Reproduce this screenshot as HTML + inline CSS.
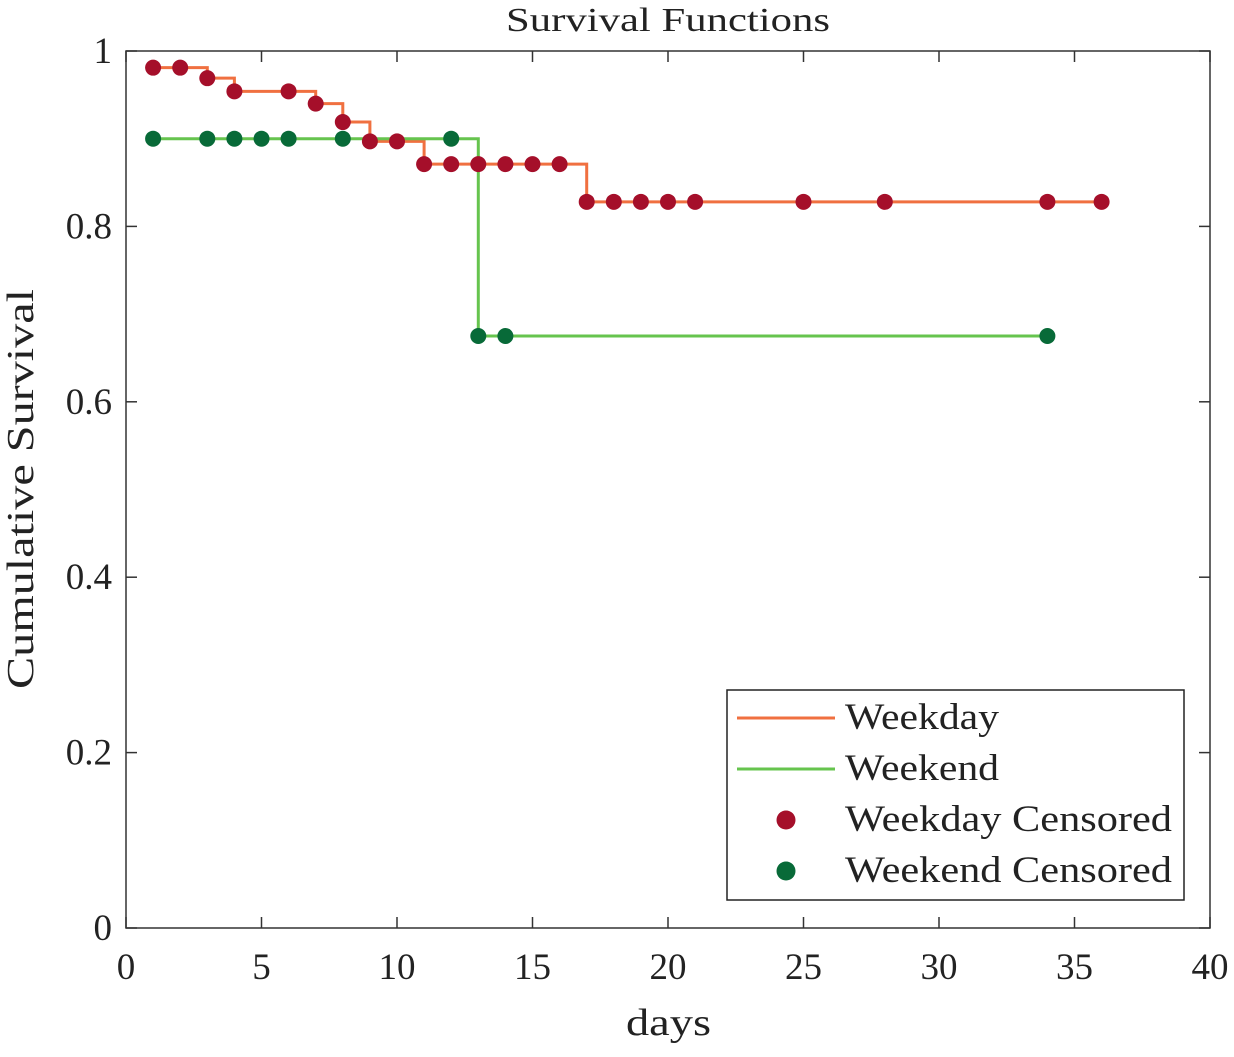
<!DOCTYPE html>
<html><head><meta charset="utf-8"><style>
body{margin:0;background:#fff}
svg text{font-family:"Liberation Serif",serif;fill:#222}
</style></head><body>
<svg id="chart" width="1234" height="1052" xmlns="http://www.w3.org/2000/svg">
<rect x="0" y="0" width="1234" height="1052" fill="#fff"/>
<g id="axes"></g>
<g id="series"></g>
<text x="506" y="31" textLength="324" lengthAdjust="spacingAndGlyphs" font-size="34">Survival Functions</text>
<text x="626" y="1035" textLength="85" lengthAdjust="spacingAndGlyphs" font-size="38">days</text>
<text transform="translate(33,689) rotate(-90)" textLength="400" lengthAdjust="spacingAndGlyphs" font-size="38">Cumulative Survival</text>
<g>
<rect x="727" y="690" width="457" height="210" fill="#fff" stroke="#222" stroke-width="1.5"/>
<line x1="737" y1="718" x2="835" y2="718" stroke="#f07040" stroke-width="3"/>
<text x="845" y="729" textLength="154" lengthAdjust="spacingAndGlyphs" font-size="37">Weekday</text>
<line x1="737" y1="769" x2="835" y2="769" stroke="#66c44e" stroke-width="3"/>
<text x="845" y="780" textLength="154" lengthAdjust="spacingAndGlyphs" font-size="37">Weekend</text>
<circle cx="786" cy="820" r="9.5" fill="#a50f2a"/>
<text x="845" y="831" textLength="327" lengthAdjust="spacingAndGlyphs" font-size="37">Weekday Censored</text>
<circle cx="786" cy="871" r="9.5" fill="#086a38"/>
<text x="845" y="882" textLength="327" lengthAdjust="spacingAndGlyphs" font-size="37">Weekend Censored</text>
</g>
</svg>
<script>
const xTicks=[0,5,10,15,20,25,30,35,40];
const yTicks=[0,0.2,0.4,0.6,0.8,1];
const yTickLabels=["0","0.2","0.4","0.6","0.8","1"];
const weekdayStepDays=[1,3,4,7,8,9,11,17,36];
const weekdayStepVals=[0.981,0.969,0.954,0.940,0.919,0.897,0.871,0.828,0.828];
const weekendStepDays=[1,13,34];
const weekendStepVals=[0.900,0.675,0.675];
const weekdayCensDays=[1,2,3,4,6,7,8,9,10,11,12,13,14,15,16,17,18,19,20,21,25,28,34,36];
const weekdayCensVals=[0.981,0.981,0.969,0.954,0.954,0.940,0.919,0.897,0.897,0.871,0.871,0.871,0.871,0.871,0.871,0.828,0.828,0.828,0.828,0.828,0.828,0.828,0.828,0.828];
const weekendCensDays=[1,3,4,5,6,8,12,13,14,34];
const weekendCensVals=[0.9,0.9,0.9,0.9,0.9,0.9,0.9,0.675,0.675,0.675];
const L=126,R=1210,T=51,B=928;
const xs=d=>L+(d/40)*(R-L);
const ys=v=>B-v*(B-T);
const NS="http://www.w3.org/2000/svg";
function mk(tag,attrs,parent){const e=document.createElementNS(NS,tag);for(const k in attrs)e.setAttribute(k,attrs[k]);parent.appendChild(e);return e;}
const ax=document.getElementById('axes'),se=document.getElementById('series');
const frame=mk('rect',{x:L,y:T,width:R-L,height:B-T,fill:'none',stroke:'#333','stroke-width':1.5},ax);


xTicks.forEach(t=>{const x=xs(t);
mk('line',{x1:x,y1:B,x2:x,y2:B-11,stroke:'#333','stroke-width':1.5},ax);
mk('line',{x1:x,y1:T,x2:x,y2:T+11,stroke:'#333','stroke-width':1.5},ax);
const tx=mk('text',{x:x,y:B+51,'text-anchor':'middle','font-size':37},ax);tx.textContent=t;

});
yTicks.forEach((t,i)=>{const y=ys(t);
mk('line',{x1:L,y1:y,x2:L+11,y2:y,stroke:'#333','stroke-width':1.5},ax);
mk('line',{x1:R,y1:y,x2:R-11,y2:y,stroke:'#333','stroke-width':1.5},ax);
const tx=mk('text',{x:L-14,y:y+12,'text-anchor':'end','font-size':37},ax);tx.textContent=yTickLabels[i];

});
function step(days,vals,color,name){let d='M'+xs(days[0])+','+ys(vals[0]);
for(let i=1;i<days.length;i++){d+=' H'+xs(days[i])+' V'+ys(vals[i]);}
const p=mk('path',{d:d,fill:'none',stroke:color,'stroke-width':3},se);

}
step(weekdayStepDays,weekdayStepVals,'#f07040','weekday-line');
step(weekendStepDays,weekendStepVals,'#66c44e','weekend-line');
function dots(days,vals,color,name){days.forEach((d,i)=>{const c=mk('circle',{cx:xs(d),cy:ys(vals[i]),r:8,fill:color},se);

});}
dots(weekendCensDays,weekendCensVals,'#086a38','weekend-censored-point');
dots(weekdayCensDays,weekdayCensVals,'#a50f2a','weekday-censored-point');
</script>
</body></html>
